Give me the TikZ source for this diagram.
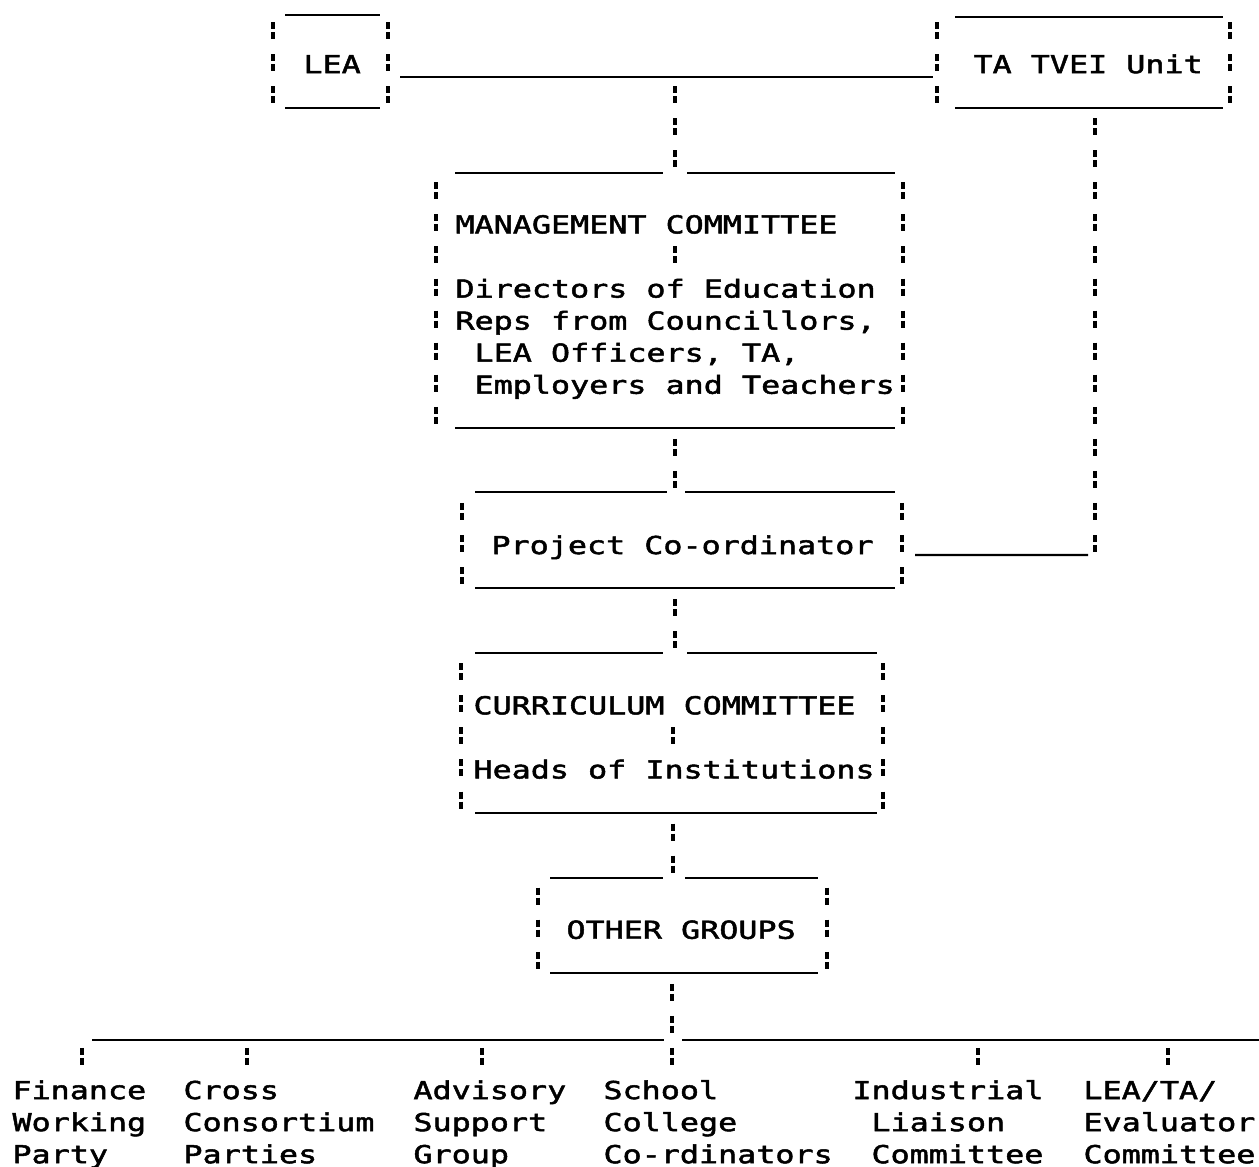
\documentclass[tikz,border=0pt]{standalone}
\usepackage{fontspec}
\newfontfamily\dotmono[FakeStretch=1.2845,FakeBold=2]{DejaVu Sans Mono}
\newcommand\dotmonotext{\dotmono\fontsize{12.35pt}{16.03pt}\selectfont}
% one blank character cell of the fixed pitch
\newcommand\cell{\hspace*{9.55pt}}
\usetikzlibrary{fit,calc}
\begin{document}
\begin{tikzpicture}[x=0.5pt,y=-0.5pt,
  rule/.style={line width=1.2pt},
  bars/.style={line width=1.7pt,dash pattern=on 3.5pt off 1.5pt on 3.5pt off 7.53pt},
  area/.style={inner sep=0pt,outer sep=0pt,draw=none},
  txt/.style={anchor=base west,inner sep=0pt,outer sep=0pt,text width=260pt,
    font=\dotmonotext},
]
\useasboundingbox[fill=white] (0,0) rectangle (1259,1167);

% ---------- LEA ----------
\node[area,fit={(273,15)(388,108)}] (lea) {};
\node[txt] (leat) at (303.5,73.12) {LEA};
\draw[rule] (285,15) -- (380,15) (285,108) -- (380,108);
\draw[bars] (273,22.06) -- (273,103.18) (388,22.06) -- (388,103.18);

% ---------- TA TVEI Unit ----------
\node[area,fit={(937,17)(1230,108)}] (ta) {};
\node[txt] (tat) at (973.5,73.12) {TA\cell TVEI\cell Unit};
\draw[rule] (955,17) -- (1223,17) (955,108) -- (1223,108);
\draw[bars] (937,22.06) -- (937,103.18) (1230,22.06) -- (1230,103.18);

% ---------- Management committee ----------
\node[area,fit={(436,173)(903,428)}] (mgmt) {};
\node[txt] (mgmtt) at (455.5,233.42) {MANAGEMENT\cell COMMITTEE};
\node[txt] (mgmtd) at (455.5,297.54) {Directors\cell of\cell Education\\Reps\cell from\cell Councillors,\\\cell LEA\cell Officers,\cell TA,\\\cell Employers\cell and\cell Teachers};
\draw[rule] (455,173) -- (663,173) (687,173) -- (895,173) (455,428) -- (895,428);
\draw[bars] (436,182.36) -- (436,423.78) (903,182.36) -- (903,423.78);
\draw[bars] (675,246.48) -- (675,263.48);

% ---------- Project co-ordinator ----------
\node[area,fit={(462,492)(902,588)}] (proj) {};
\node[txt] (projt) at (491.5,554.02) {Project\cell Co-ordinator};
\draw[rule] (475,492) -- (667,492) (685,492) -- (895,492) (475,588) -- (895,588);
\draw[bars] (462,502.96) -- (462,584.08) (902,502.96) -- (902,584.08);

% ---------- Curriculum committee ----------
\node[area,fit={(461,653)(883,813)}] (curr) {};
\node[txt] (currt) at (473.5,714.32) {CURRICULUM\cell COMMITTEE};
\node[txt] (currd) at (473.5,778.44) {Heads\cell of\cell Institutions};
\draw[rule] (475,653) -- (663,653) (687,653) -- (877,653) (475,813) -- (877,813);
\draw[bars] (461,663.26) -- (461,808.5) (883,663.26) -- (883,808.5);
\draw[bars] (673,727.38) -- (673,744.38);

% ---------- Other groups ----------
\node[area,fit={(538,878)(827,973)}] (other) {};
\node[txt] (othert) at (566.5,938.74) {OTHER\cell GROUPS};
\draw[rule] (550,878) -- (663,878) (685,878) -- (818,878) (550,973) -- (818,973);
\draw[bars] (538,887.68) -- (538,968.8) (827,887.68) -- (827,968.8);

% ---------- working groups ----------
\node[txt] (fin) at (12.5,1099.04) {Finance\\Working\\Party};
\node[txt] (cross) at (183.5,1099.04) {Cross\\Consortium\\Parties};
\node[txt] (adv) at (413.5,1099.04) {Advisory\\Support\\Group};
\node[txt] (school) at (603.5,1099.04) {School\\College\\Co-rdinators};
\node[txt] (ind) at (852.4,1099.04) {Industrial\\\cell Liaison\\\cell Committee};
\node[txt] (eval) at (1083.5,1099.04) {LEA/TA/\\Evaluator\\Committee};

% ---------- connectors ----------
\coordinate (j1) at (675,77);
\coordinate (tacorner) at (1095,552.02);
\coordinate (busmid) at (672,1040);
\coordinate (busL) at (92,1040);
\coordinate (busR) at (1259,1040);

\draw[rule] ($(lea.east)+(12,15.5)$) -- ($(ta.west)+(-4,14.5)$);
\draw[bars] ($(j1)+(0,9.18)$) -- ($(mgmt.north)+(5.5,-5.7)$);
\draw[bars] ($(mgmt.south)+(5.5,10.84)$) -- ($(proj.north)+(-7,-4.1)$);
\draw[bars] ($(ta.south)+(11.5,10.24)$) -- (tacorner);
\draw[rule] ($(proj.east)+(13,15)$) -- ($(tacorner)+(-7,3)$);
\draw[bars] ($(proj.south)+(-7,11.14)$) -- ($(curr.north)+(3,-4.8)$);
\draw[bars] ($(curr.south)+(1,10.56)$) -- ($(other.north)+(-9.5,-5.38)$);
\draw[bars] ($(other.south)+(-10.5,10.86)$) -- ($(busmid)+(0,24.98)$);
\draw[rule] (busL) -- ($(busmid)+(-8,0)$) ($(busmid)+(10,0)$) -- (busR);

\draw[bars] ($(fin.base west)+(69.5,-51.06)$) -- ++(0,17);
\draw[bars] ($(cross.base west)+(63.5,-51.06)$) -- ++(0,17);
\draw[bars] ($(adv.base west)+(68.5,-51.06)$) -- ++(0,17);
\draw[bars] ($(ind.base west)+(125.6,-51.06)$) -- ++(0,17);
\draw[bars] ($(eval.base west)+(84.5,-51.06)$) -- ++(0,17);
\end{tikzpicture}
\end{document}
